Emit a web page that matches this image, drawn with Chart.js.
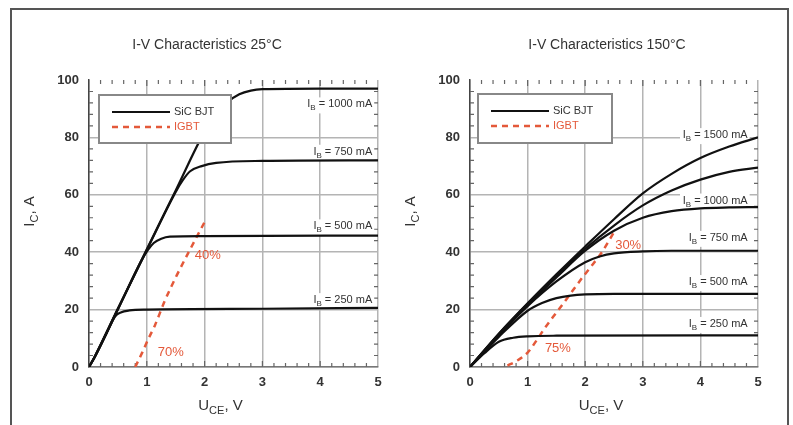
<!DOCTYPE html>
<html>
<head>
<meta charset="utf-8">
<script src="https://cdn.jsdelivr.net/npm/chart.js@4"></script>
<style>
  body { margin: 0; background: #fff; width: 793px; height: 425px; overflow: hidden; position: relative; }
  #frame { position: absolute; left: 10px; top: 8px; width: 775px; height: 430px; border: 2px solid #555; border-bottom: none; }
  canvas { position: absolute; top: 0; }
  #c25 { left: 0; }
  #c150 { left: 400px; }
</style>
</head>
<body>
<div id="frame"></div>
<canvas id="c25" width="400" height="425"></canvas>
<canvas id="c150" width="393" height="425"></canvas>
<script>
// --- 25°C: SiC BJT curves [U_CE (V), I_C (A)]
const bjt25_1000 = [[0,0],[0.1,3.7],[0.5,20.4],[1,41],[1.5,61.5],[2,82],[2.2,88],[2.4,92.3],[2.6,95],[2.8,96.3],[3,96.8],[4,97],[5,97]];
const bjt25_750 = [[0,0],[0.1,3.6],[0.5,20.2],[1,40.8],[1.5,61],[1.62,65],[1.75,68.2],[1.95,70],[2.2,71.1],[3,71.8],[5,72]];
const bjt25_500 = [[0,0],[0.1,3.5],[0.5,20],[0.9,36.8],[1.02,40.8],[1.12,43.2],[1.25,44.7],[1.4,45.4],[2,45.6],[5,45.8]];
const bjt25_250 = [[0,0],[0.1,3.5],[0.3,11.6],[0.45,17.6],[0.55,19],[0.7,19.7],[1,20],[3,20.3],[5,20.6]];
const igbt25 = [[0.8,0],[0.92,5],[1.02,9.5],[1.14,14.5],[1.31,23],[1.52,32],[1.75,41],[2.0,50.5]];

// --- 150°C: SiC BJT curves
const bjt150_1500 = [[0,0],[0.5,11.6],[1,22.2],[1.5,32.3],[2,42],[2.5,51.5],[3,60.5],[3.5,67.3],[4,72.8],[4.5,76.8],[5,80]];
const bjt150_1250 = [[0,0],[0.5,11.5],[1,22],[1.5,31.8],[2,41.2],[2.5,49.3],[3,56.3],[3.5,61.5],[4,65.3],[4.5,68],[5,69.5]];
const bjt150_1000 = [[0,0],[0.5,11.3],[1,21.6],[1.5,31.2],[2,40.5],[2.5,47.5],[3,52],[3.5,54.3],[4,55.3],[4.5,55.6],[5,55.7]];
const bjt150_750 = [[0,0],[0.5,11.1],[1,21.2],[1.5,29.8],[2,36.5],[2.25,38.5],[2.5,39.6],[3,40.3],[3.5,40.5],[5,40.5]];
const bjt150_500 = [[0,0],[0.25,5.3],[0.5,10.5],[1,19.6],[1.25,22.3],[1.5,24],[1.75,24.9],[2,25.3],[2.5,25.5],[5,25.5]];
const bjt150_250 = [[0,0],[0.25,4.8],[0.5,8.8],[0.75,10.2],[1,10.7],[1.5,10.9],[5,11]];
const igbt150 = [[0.65,0.5],[0.8,2],[1.0,5],[1.16,9.4],[1.3,13.6],[1.44,17.4],[1.6,21.6],[1.79,26.8],[1.96,31.4],[2.14,36],[2.29,40],[2.5,47]];

// --- annotations
const curveNames25 = ["1000 mA", "750 mA", "500 mA", "250 mA"];
const curveLabelY25 = [91.5, 75, 49, 23.3];
const curveNames150 = ["1500 mA", "1000 mA", "750 mA", "500 mA", "250 mA"];
const curveLabelY150 = [80.8, 58, 45, 29.6, 15];
const pctText25 = ["40%", "70%"];
const pctX25 = [1.83, 1.19];
const pctY25 = [39, 5.2];
const pctText150 = ["30%", "75%"];
const pctX150 = [2.52, 1.3];
const pctY150 = [42.5, 6.6];

const FONT = '"Liberation Sans", Arial, sans-serif';
const RED = "#e4593a";
const DARK = "#333";

const toXY = pts => pts.map(([x, y]) => ({ x, y }));

// draw text made of [text, isSub] parts
function drawParts(ctx, parts, x, y, size, weight, color, align) {
    const big = `${weight} ${size}px ${FONT}`;
    const small = `${weight} ${Math.round(size * 0.7)}px ${FONT}`;
    let w = 0;
    parts.forEach(([t, sub]) => { ctx.font = sub ? small : big; w += ctx.measureText(t).width; });
    let cx = align === "right" ? x - w : align === "center" ? x - w / 2 : x;
    ctx.fillStyle = color;
    ctx.textBaseline = "middle";
    ctx.textAlign = "left";
    parts.forEach(([t, sub]) => {
        ctx.font = sub ? small : big;
        ctx.fillText(t, cx, sub ? y + size * 0.35 : y);
        cx += ctx.measureText(t).width;
    });
    return w;
}

const decor = {
    id: "decor",
    beforeDatasetsDraw(chart, args, o) {
        const { ctx, chartArea: a, scales: { x, y } } = chart;
        ctx.save();
        ctx.strokeStyle = "#666";
        ctx.lineWidth = 1.2;
        ctx.beginPath();
        for (let i = 1; i < 25; i++) {
            const px = x.getPixelForValue(i / 5);
            const len = i % 5 === 0 ? 6 : 4;
            ctx.moveTo(px, a.bottom); ctx.lineTo(px, a.bottom - len);
            ctx.moveTo(px, a.top); ctx.lineTo(px, a.top + len);
        }
        for (let j = 1; j < 25; j++) {
            if (j % 5 === 0) continue;
            const py = y.getPixelForValue(j * 4);
            ctx.moveTo(a.left, py); ctx.lineTo(a.left + 4, py);
            ctx.moveTo(a.right, py); ctx.lineTo(a.right - 4, py);
        }
        ctx.stroke();

        // white patches behind the curve labels (hide grid only)
        const nx = x.getPixelForValue(o.nameX);
        ctx.font = `normal 11px ${FONT}`;
        ctx.fillStyle = "#fff";
        o.names.forEach((n, i) => {
            const py = y.getPixelForValue(o.nameY[i]);
            const w = ctx.measureText("I = " + n).width + 6;
            ctx.fillRect(nx - w - 2, py - 7, w + 4, 16);
        });
        ctx.restore();
    },
    afterDatasetsDraw(chart, args, o) {
        const { ctx, chartArea: a, scales: { x, y } } = chart;
        ctx.save();

        // legend box
        const lx = a.left + o.legend[0], ly = a.top + o.legend[1];
        const lw = o.legend[2], lh = o.legend[3];
        ctx.fillStyle = "#fff";
        ctx.fillRect(lx, ly, lw, lh);
        ctx.strokeStyle = "#888";
        ctx.lineWidth = 2;
        ctx.strokeRect(lx, ly, lw, lh);
        const shown = chart.data.datasets.filter(d => d.label);
        shown.forEach((d, i) => {
            const yy = ly + 17 + i * 15;
            ctx.strokeStyle = d.borderColor;
            ctx.lineWidth = d.borderWidth || 2;
            ctx.setLineDash(d.borderDash || []);
            ctx.beginPath();
            ctx.moveTo(lx + 13, yy); ctx.lineTo(lx + 71, yy);
            ctx.stroke();
            ctx.setLineDash([]);
            drawParts(ctx, [[d.label, false]], lx + 75, yy, 11, "normal", d.legendColor, "left");
        });

        // curve labels
        const nx = x.getPixelForValue(o.nameX);
        o.names.forEach((n, i) => {
            const py = y.getPixelForValue(o.nameY[i]);
            drawParts(ctx, [["I", false], ["B", true], [" = " + n, false]], nx, py, 11, "normal", DARK, "right");
        });

        // efficiency labels
        o.pcts.forEach((t, i) => {
            drawParts(ctx, [[t, false]], x.getPixelForValue(o.pctX[i]), y.getPixelForValue(o.pctY[i]), 13, "normal", RED, "left");
        });

        // chart title
        drawParts(ctx, [[o.title, false]], o.titleX, 45, 14, "normal", DARK, "center");

        // axis titles
        drawParts(ctx, [["U", false], ["CE", true], [", V", false]], (a.left + a.right) / 2 - 13, 406, 15, "normal", DARK, "center");
        ctx.save();
        ctx.translate(a.left - 59, (a.top + a.bottom) / 2 - 12);
        ctx.rotate(-Math.PI / 2);
        drawParts(ctx, [["I", false], ["C", true], [", A", false]], 0, 0, 15, "normal", DARK, "center");
        ctx.restore();

        ctx.restore();
    }
};

function sicSet(pts, label) {
    return {
        label: label, data: toXY(pts), borderColor: "#111", borderWidth: 2.2,
        legendColor: DARK, pointRadius: 0, cubicInterpolationMode: "monotone"
    };
}
function igbtSet(pts) {
    return {
        label: "IGBT", data: toXY(pts), borderColor: RED, borderWidth: 2.5, borderDash: [6, 5],
        legendColor: RED, pointRadius: 0, cubicInterpolationMode: "monotone"
    };
}

function makeChart(id, datasets, padL, padR, decorOpts) {
    const tickFont = { family: FONT, size: 13, weight: "bold" };
    return new Chart(document.getElementById(id), {
        type: "line",
        data: { datasets: datasets },
        options: {
            responsive: false,
            animation: false,
            layout: { padding: { left: padL, right: padR, top: 80, bottom: 0 } },
            plugins: { legend: { display: false }, tooltip: { enabled: false }, decor: decorOpts },
            scales: {
                x: {
                    type: "linear", min: 0, max: 5,
                    afterFit: s => { s.height = 58; },
                    ticks: { stepSize: 1, padding: 8, color: DARK, font: tickFont },
                    grid: { color: "#b4b4b4", lineWidth: 1.5, drawTicks: false },
                    border: { color: "#777", width: 1.5 }
                },
                y: {
                    type: "linear", min: 0, max: 100,
                    afterFit: s => { s.width = 40; },
                    ticks: { stepSize: 20, padding: 10, color: DARK, font: tickFont },
                    grid: {
                        color: c => (c.tick && c.tick.value === 100) ? "rgba(0,0,0,0)" : "#b4b4b4",
                        lineWidth: 1.5, drawTicks: false
                    },
                    border: { color: "#444", width: 1.5 }
                }
            }
        },
        plugins: [decor]
    });
}

makeChart("c25", [
    sicSet(bjt25_1000, "SiC BJT"),
    sicSet(bjt25_750, ""),
    sicSet(bjt25_500, ""),
    sicSet(bjt25_250, ""),
    igbtSet(igbt25)
], 49, 22, {
    title: "I-V Characteristics 25°C", titleX: 207,
    legend: [10, 15, 132, 48],
    names: curveNames25, nameY: curveLabelY25, nameX: 4.9,
    pcts: pctText25, pctX: pctX25, pctY: pctY25
});

makeChart("c150", [
    sicSet(bjt150_1500, "SiC BJT"),
    sicSet(bjt150_1250, ""),
    sicSet(bjt150_1000, ""),
    sicSet(bjt150_750, ""),
    sicSet(bjt150_500, ""),
    sicSet(bjt150_250, ""),
    igbtSet(igbt150)
], 30, 35, {
    title: "I-V Characteristics 150°C", titleX: 207,
    legend: [8, 14, 134, 49],
    names: curveNames150, nameY: curveLabelY150, nameX: 4.82,
    pcts: pctText150, pctX: pctX150, pctY: pctY150
});
</script>
</body>
</html>
